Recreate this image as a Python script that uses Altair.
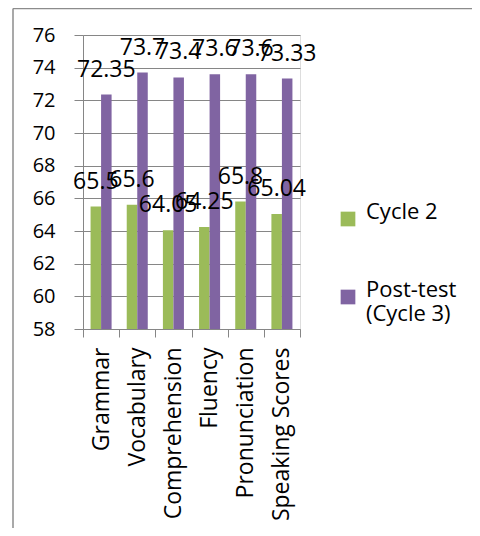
import altair as alt
import pandas as pd

categories = ["Grammar", "Vocabulary", "Comprehension", "Fluency", "Pronunciation", "Speaking Scores"]
series = ["Cycle 2", "Post-test (Cycle 3)"]
cycle2 = [65.5, 65.6, 64.05, 64.25, 65.8, 65.04]
posttest = [72.35, 73.7, 73.4, 73.6, 73.6, 73.33]
colors = ["#9BBB59", "#8064A2"]
y_ticks = [58, 60, 62, 64, 66, 68, 70, 72, 74, 76]

rows = []
for s, vals in zip(series, [cycle2, posttest]):
    for c, v in zip(categories, vals):
        rows.append({"category": c, "series": s, "value": v, "label": f"{v:g}"})
df = pd.DataFrame(rows)

FONT = "Open Sans"
GREY = "#868686"

x_enc = alt.X("category:N", sort=categories,
              scale=alt.Scale(paddingInner=0, paddingOuter=0),
              axis=alt.Axis(title=None, labelAngle=-90, labelFont=FONT, labelFontSize=23,
                            labelColor="black", tickBand="extent", tickSize=8,
                            tickColor=GREY, domainColor=GREY, labelPadding=10,
                            grid=False, labelLimit=300, labelOverlap=False))
xoff_enc = alt.XOffset("series:N", sort=series,
                       scale=alt.Scale(paddingInner=0, paddingOuter=0.72))
y_enc = alt.Y("value:Q", scale=alt.Scale(domain=[58, 76], nice=False, zero=False),
              axis=alt.Axis(title=None, values=y_ticks, tickCount=len(y_ticks),
                            labelFont=FONT, labelFontSize=20,
                            labelColor="black", tickSize=9, tickColor=GREY,
                            domainColor=GREY, gridColor=GREY, gridOpacity=1,
                            labelPadding=19, labelOverlap=False))

bars = alt.Chart(df).mark_bar(clip=True).encode(
    x=x_enc,
    xOffset=xoff_enc,
    y=y_enc,
    color=alt.Color("series:N", sort=series,
                    scale=alt.Scale(domain=series, range=colors),
                    legend=alt.Legend(orient="none", legendX=254, legendY=173, title=None,
                                      symbolType="square", symbolSize=216,
                                      symbolStrokeWidth=0, labelFont=FONT,
                                      labelFontSize=22, labelColor="black",
                                      labelOffset=7, rowPadding=52,
                                      labelBaseline="alphabetic",
                                      labelExpr="datum.label == 'Post-test (Cycle 3)' ? ['Post-test', '(Cycle 3)'] : datum.label")),
)

labels = alt.Chart(df).mark_text(font=FONT, fontSize=23, color="black",
                                 baseline="alphabetic", dy=-18).encode(
    x=alt.X("category:N", sort=categories),
    xOffset=alt.XOffset("series:N", sort=series),
    y=alt.Y("value:Q"),
    text="label:N",
)

frame_data = alt.Data(values=[{"k": 1}])
left_border = alt.Chart(frame_data).mark_rule(color="#8c8c8c", strokeWidth=1.5).encode(
    x=alt.value(-70), y=alt.value(-26.5), y2=alt.value(495))
top_border = alt.Chart(frame_data).mark_rule(color="#8c8c8c", strokeWidth=1.5).encode(
    x=alt.value(-70), x2=alt.value(390), y=alt.value(-26.5))

chart = alt.layer(bars, labels, left_border, top_border).properties(
    width=217, height=294,
    autosize=alt.AutoSizeParams(type="none"),
    padding={"left": 75, "top": 27, "right": 172, "bottom": 199},
).configure_view(stroke=None).configure(background="white")

chart.save("out.html", embed_options={"renderer": "svg", "actions": False})
